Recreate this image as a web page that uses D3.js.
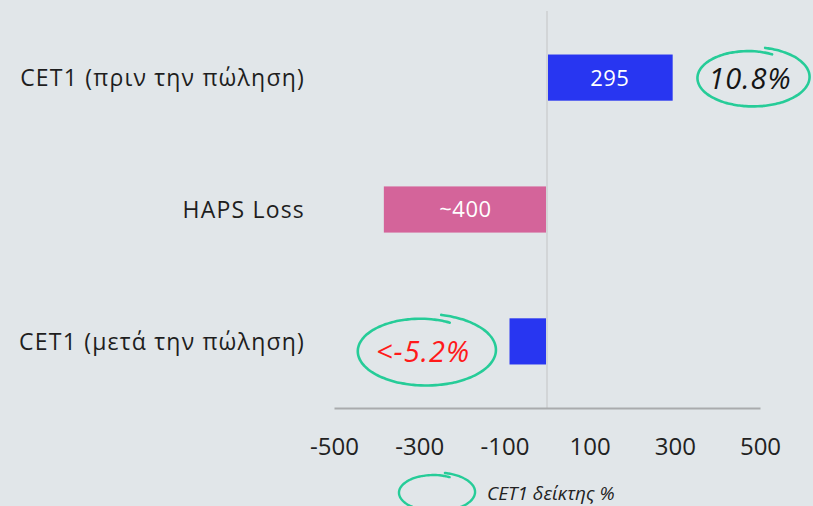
<!DOCTYPE html>
<html><head><meta charset="utf-8">
<script src="https://cdn.jsdelivr.net/npm/d3@7"></script>
<style>
html,body{margin:0;padding:0;background:#e1e6e9;}
svg{display:block;font-family:"Open Sans","Noto Sans",sans-serif;}
</style></head>
<body><svg id="c" width="813" height="506"></svg>
<script>
const categories = ["CET1 (πριν την πώληση)", "HAPS Loss", "CET1 (μετά την πώληση)"];
const values = [295, -383, -88];
const barLabels = ["295", "~400", ""];
const barColors = ["#2836f1", "#d4649a", "#2836f1"];
const ratioLabels = ["10.8%", "", "<-5.2%"];
const tickValues = [-500, -300, -100, 100, 300, 500];
const legendLabel = "CET1 δείκτης %";

const svg = d3.select("#c");
const x = d3.scaleLinear().domain([-500, 500]).range([334, 760]);
const y = d3.scaleBand().domain(categories).range([11, 408]).paddingInner(0.65).paddingOuter(0.33);

// zero line
svg.append("line").attr("x1", x(0)).attr("x2", x(0)).attr("y1", 11).attr("y2", 408)
  .attr("stroke", "#d2d5d7").attr("stroke-width", 2);

// axis
const axis = d3.axisBottom(x).tickValues(tickValues).tickSize(0).tickPadding(30).tickFormat(d => String(d));
const ag = svg.append("g").attr("transform", "translate(0,408)").call(axis);
ag.select(".domain").attr("stroke", "#a9abad").attr("stroke-width", 2);
ag.selectAll("text").attr("font-size", 24).attr("fill", "#222").attr("font-family", "'Open Sans','Noto Sans',sans-serif");

// bars
svg.selectAll("rect.bar").data(categories).enter().append("rect")
  .attr("x", (d, i) => Math.min(x(0), x(values[i])) + (values[i] > 0 ? 1 : 0))
  .attr("width", (d, i) => Math.abs(x(values[i]) - x(0)) - 1)
  .attr("y", d => y(d)).attr("height", y.bandwidth())
  .attr("fill", (d, i) => barColors[i]);

svg.selectAll("text.bl").data(categories).enter().append("text")
  .attr("x", (d, i) => (x(0) + x(values[i])) / 2)
  .attr("y", d => y(d) + y.bandwidth() / 2)
  .attr("dy", "0.36em").attr("text-anchor", "middle")
  .attr("font-size", 22).attr("fill", "#fff").attr("letter-spacing", 0.5)
  .text((d, i) => barLabels[i]);

// category labels
svg.selectAll("text.cat").data(categories).enter().append("text")
  .attr("x", 305).attr("y", d => y(d) + y.bandwidth() / 2)
  .attr("dy", "0.36em").attr("text-anchor", "end")
  .attr("font-size", 23).attr("letter-spacing", 1.2).attr("fill", "#1e1e1e")
  .text(d => d);

// hand-drawn ellipse
function loop(cx, cy, rx, ry) {
  const pts = [];
  const t0 = -Math.PI / 2 + 0.23, t1 = t0 + 2 * Math.PI + 0.2;
  const n = 120;
  for (let k = 0; k <= n; k++) {
    const t = t0 + (t1 - t0) * k / n;
    const f = k / n;
    const s = 1.03 - 0.17 * Math.pow(f, 3);
    pts.push([cx + rx * s * Math.cos(t), cy + ry * s * Math.sin(t)]);
  }
  return d3.line().curve(d3.curveBasis)(pts);
}
const green = "#26cc98";
// ratio annotations
const ratioPos = [[752, 77, 56, 29, "#151515"], null, [425, 350, 69, 35, "#ff1a1a"]];
categories.forEach((c, i) => {
  if (!ratioLabels[i]) return;
  const p = ratioPos[i];
  svg.append("path").attr("d", loop(p[0], p[1], p[2], p[3]))
    .attr("fill", "none").attr("stroke", green).attr("stroke-width", 2.6).attr("stroke-linecap", "round");
  svg.append("text").attr("x", p[0] - 2).attr("y", p[1] + 2).attr("dy", "0.36em")
    .attr("text-anchor", "middle").attr("font-size", 29).attr("font-style", "italic")
    .attr("letter-spacing", 1).attr("fill", p[4]).text(ratioLabels[i]);
});

// legend
svg.append("path").attr("d", loop(436, 492, 38, 19))
  .attr("fill", "none").attr("stroke", green).attr("stroke-width", 2.4).attr("stroke-linecap", "round");
svg.append("text").attr("x", 487).attr("y", 493).attr("dy", "0.36em")
  .attr("font-size", 19).attr("font-style", "italic").attr("fill", "#222").text(legendLabel);
</script></body></html>
